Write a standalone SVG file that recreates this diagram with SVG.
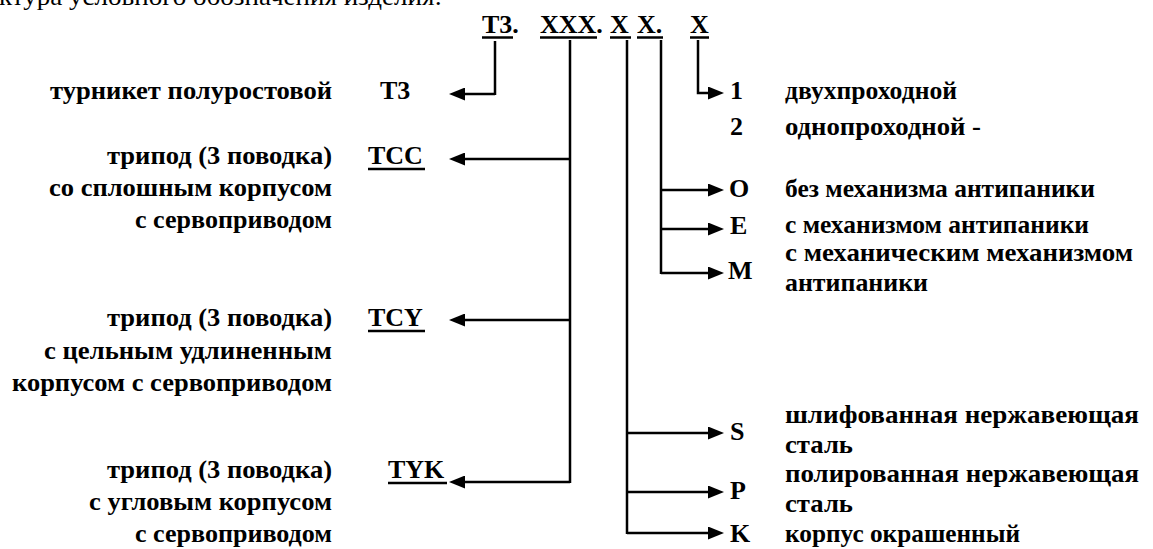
<svg xmlns="http://www.w3.org/2000/svg" width="1153" height="549" viewBox="0 0 1153 549">
  <defs>
    <marker id="ah" markerUnits="userSpaceOnUse" markerWidth="16" markerHeight="13" viewBox="0 0 16 13" refX="1" refY="6.5" orient="auto">
      <path d="M0,0 L16,6.5 L0,13 z" fill="#000"/>
    </marker>
  </defs>
  <rect width="1153" height="549" fill="#fff"/>

  <text style="font-family:'Liberation Serif',serif" font-size="26" x="-1" y="5" textLength="443" lengthAdjust="spacingAndGlyphs">ктура условного обозначения изделия:</text>

  <g id="code" font-size="26" font-weight="bold">
    <text style="font-family:'Liberation Serif',serif" x="482" y="33">Т3.</text>
    <text style="font-family:'Liberation Serif',serif" x="540" y="33">XXX.</text>
    <text style="font-family:'Liberation Serif',serif" x="610" y="33">X</text>
    <text style="font-family:'Liberation Serif',serif" x="637" y="33">X.</text>
    <text style="font-family:'Liberation Serif',serif" x="690" y="33">X</text>
    <g stroke="#000" stroke-width="2.5">
      <line x1="482" y1="37.5" x2="513" y2="37.5"/>
      <line x1="540" y1="37.5" x2="597" y2="37.5"/>
      <line x1="610" y1="37.5" x2="631" y2="37.5"/>
      <line x1="637" y1="37.5" x2="663" y2="37.5"/>
      <line x1="690" y1="37.5" x2="709" y2="37.5"/>
    </g>
  </g>

  <g id="connectors" fill="none" stroke="#000" stroke-width="2.5">
    <path d="M495,41 V95 M495,94 H464" marker-end="url(#ah)"/>
    <path d="M570,40 V483"/>
    <path d="M570,159 H464" marker-end="url(#ah)"/>
    <path d="M570,320 H464" marker-end="url(#ah)"/>
    <path d="M570,482 H464" marker-end="url(#ah)"/>
    <path d="M627,40 V534"/>
    <path d="M627,433 H709" marker-end="url(#ah)"/>
    <path d="M627,492 H709" marker-end="url(#ah)"/>
    <path d="M627,533 H709" marker-end="url(#ah)"/>
    <path d="M661,40 V274"/>
    <path d="M661,190 H709" marker-end="url(#ah)"/>
    <path d="M661,229 H709" marker-end="url(#ah)"/>
    <path d="M661,273 H709" marker-end="url(#ah)"/>
    <path d="M698,40 V93 H709" marker-end="url(#ah)"/>
  </g>

  <g id="node-t3" font-size="26" font-weight="bold">
    <text style="font-family:'Liberation Serif',serif" text-anchor="end" x="332" y="99" textLength="282" lengthAdjust="spacingAndGlyphs">турникет полуростовой</text>
    <text style="font-family:'Liberation Serif',serif" x="380" y="99">Т3</text>
  </g>
  <g id="node-tcc" font-size="26" font-weight="bold">
    <text style="font-family:'Liberation Serif',serif" text-anchor="end" x="332" y="164" textLength="225" lengthAdjust="spacingAndGlyphs">трипод (3 поводка)</text>
    <text style="font-family:'Liberation Serif',serif" text-anchor="end" x="332" y="196" textLength="283" lengthAdjust="spacingAndGlyphs">со сплошным корпусом</text>
    <text style="font-family:'Liberation Serif',serif" text-anchor="end" x="332" y="228" textLength="197" lengthAdjust="spacingAndGlyphs">с сервоприводом</text>
    <text style="font-family:'Liberation Serif',serif" x="368" y="164">TCC</text>
    <line stroke="#000" stroke-width="2.5" x1="368" y1="169" x2="425" y2="169"/>
  </g>
  <g id="node-tcy" font-size="26" font-weight="bold">
    <text style="font-family:'Liberation Serif',serif" text-anchor="end" x="332" y="326" textLength="225" lengthAdjust="spacingAndGlyphs">трипод (3 поводка)</text>
    <text style="font-family:'Liberation Serif',serif" text-anchor="end" x="332" y="359" textLength="288" lengthAdjust="spacingAndGlyphs">с цельным удлиненным</text>
    <text style="font-family:'Liberation Serif',serif" text-anchor="end" x="332" y="391" textLength="320" lengthAdjust="spacingAndGlyphs">корпусом с сервоприводом</text>
    <text style="font-family:'Liberation Serif',serif" x="368" y="326">TCY</text>
    <line stroke="#000" stroke-width="2.5" x1="368" y1="331" x2="425" y2="331"/>
  </g>
  <g id="node-tyk" font-size="26" font-weight="bold">
    <text style="font-family:'Liberation Serif',serif" text-anchor="end" x="332" y="478" textLength="225" lengthAdjust="spacingAndGlyphs">трипод (3 поводка)</text>
    <text style="font-family:'Liberation Serif',serif" text-anchor="end" x="332" y="510" textLength="243" lengthAdjust="spacingAndGlyphs">с угловым корпусом</text>
    <text style="font-family:'Liberation Serif',serif" text-anchor="end" x="332" y="542" textLength="197" lengthAdjust="spacingAndGlyphs">с сервоприводом</text>
    <text style="font-family:'Liberation Serif',serif" x="388" y="478">TYK</text>
    <line stroke="#000" stroke-width="2.5" x1="388" y1="483" x2="447" y2="483"/>
  </g>

  <g id="node-1" font-size="26" font-weight="bold">
    <text style="font-family:'Liberation Serif',serif" x="730" y="99">1</text>
    <text style="font-family:'Liberation Serif',serif" x="785" y="99" textLength="172" lengthAdjust="spacingAndGlyphs">двухпроходной</text>
  </g>
  <g id="node-2" font-size="26" font-weight="bold">
    <text style="font-family:'Liberation Serif',serif" x="730" y="135">2</text>
    <text style="font-family:'Liberation Serif',serif" x="785" y="135" textLength="196" lengthAdjust="spacingAndGlyphs">однопроходной -</text>
  </g>
  <g id="node-o" font-size="26" font-weight="bold">
    <text style="font-family:'Liberation Serif',serif" x="729" y="197">O</text>
    <text style="font-family:'Liberation Serif',serif" x="785" y="197" textLength="310" lengthAdjust="spacingAndGlyphs">без механизма антипаники</text>
  </g>
  <g id="node-e" font-size="26" font-weight="bold">
    <text style="font-family:'Liberation Serif',serif" x="730" y="234">E</text>
    <text style="font-family:'Liberation Serif',serif" x="785" y="233" textLength="304" lengthAdjust="spacingAndGlyphs">с механизмом антипаники</text>
  </g>
  <g id="node-m" font-size="26" font-weight="bold">
    <text style="font-family:'Liberation Serif',serif" x="728" y="279">M</text>
    <text style="font-family:'Liberation Serif',serif" x="785" y="261" textLength="348" lengthAdjust="spacingAndGlyphs">с механическим механизмом</text>
    <text style="font-family:'Liberation Serif',serif" x="785" y="291" textLength="143" lengthAdjust="spacingAndGlyphs">антипаники</text>
  </g>
  <g id="node-s" font-size="26" font-weight="bold">
    <text style="font-family:'Liberation Serif',serif" x="730" y="440">S</text>
    <text style="font-family:'Liberation Serif',serif" x="785" y="423" textLength="354" lengthAdjust="spacingAndGlyphs">шлифованная  нержавеющая</text>
    <text style="font-family:'Liberation Serif',serif" x="785" y="453" textLength="68" lengthAdjust="spacingAndGlyphs">сталь</text>
  </g>
  <g id="node-p" font-size="26" font-weight="bold">
    <text style="font-family:'Liberation Serif',serif" x="730" y="499">P</text>
    <text style="font-family:'Liberation Serif',serif" x="785" y="482" textLength="354" lengthAdjust="spacingAndGlyphs">полированная нержавеющая</text>
    <text style="font-family:'Liberation Serif',serif" x="785" y="512" textLength="68" lengthAdjust="spacingAndGlyphs">сталь</text>
  </g>
  <g id="node-k" font-size="26" font-weight="bold">
    <text style="font-family:'Liberation Serif',serif" x="730" y="542">K</text>
    <text style="font-family:'Liberation Serif',serif" x="785" y="542" textLength="235" lengthAdjust="spacingAndGlyphs">корпус окрашенный</text>
  </g>
</svg>
